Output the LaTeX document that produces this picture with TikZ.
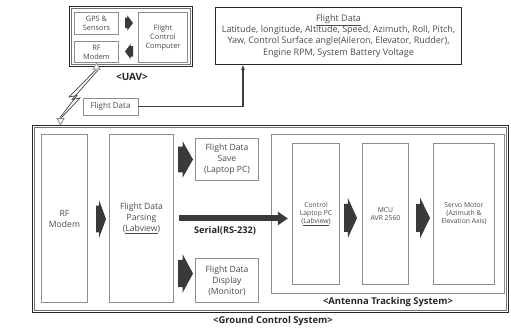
\documentclass[tikz,border=0pt]{standalone}
\usepackage{fontspec}
\setmainfont{Open Sans}
\usetikzlibrary{arrows.meta,calc}
\definecolor{bordergray}{HTML}{8C8C8C}
\definecolor{txtgray}{HTML}{4A4A4A}
\definecolor{arrowgray}{HTML}{3A3A3A}
\newcommand\blkarrow[5]{% x, y, length, width, rotation
  \fill[arrowgray, shift={(#1,#2)}, rotate=#5]
    ({-#3/2},{-0.35*#4}) -- ({-0.2*#3},{-0.35*#4}) -- ({-0.2*#3},{-#4/2}) --
    ({#3/2},0) -- ({-0.2*#3},{#4/2}) -- ({-0.2*#3},{0.35*#4}) --
    ({-#3/2},{0.35*#4}) -- cycle;}
\begin{document}
\begin{tikzpicture}[x=1pt,y=-1pt,
  gbox/.style={draw=bordergray, line width=1.3pt, fill=white, inner sep=1pt,
    align=center, text=txtgray},
  obox/.style={draw=black!85, line width=1.7pt, inner sep=0pt},
  innerline/.style={draw=black!55, line width=0.7pt},
  bigfont/.style={font=\fontsize{8.6}{11}\selectfont},
  midfont/.style={font=\fontsize{7.4}{9}\selectfont},
  smallfont/.style={font=\fontsize{6.8}{8}\selectfont},
  lbl/.style={font=\bfseries\fontsize{9.4}{11}\selectfont, text=black!85},
  conn/.style={draw=black!75, line width=1.1pt, -{Stealth[length=5pt,width=4pt]}},
  bolt/.style={draw=black!75, line width=0.7pt, line join=miter},
  ant/.style={draw=bordergray, line width=0.8pt, fill=white}
]
\useasboundingbox (0,0) rectangle (511,328);

% ---------------- UAV ----------------
\node[obox, minimum width=123, minimum height=60] (uav) at (131,36.5) {};
\draw[innerline] ($(uav.north west)+(2.6,2.6)$) rectangle ($(uav.south east)+(-2.6,-2.6)$);
\node[gbox, midfont, minimum width=44, minimum height=22] (gps) at (96.5,23.5) {GPS \&\\Sensors};
\node[gbox, midfont, minimum width=44, minimum height=21] (rfu) at (96.5,52) {RF\\Modem};
\node[gbox, midfont, minimum width=49, minimum height=50] (fcc) at (163,37.5) {Flight\\Control\\Computer};
\node[lbl, font=\bfseries\fontsize{10}{12}\selectfont] (uavlbl) at (132,76.5) {<UAV>};
\blkarrow{129}{23}{8}{15}{0}
\blkarrow{129}{51.5}{8}{15}{180}

% ---------------- Flight Data box ----------------
\node[draw=black!85, line width=1.7pt, minimum width=246, minimum height=57, align=center,
  font=\fontsize{9}{11.2}\selectfont, text=txtgray] (fdbig) at (338.5,36)
  {\underline{Flight Data}\\
   Latitude, longitude, Altitude, Speed, Azimuth, Roll, Pitch,\\
   Yaw, Control Surface angle(Aileron, Elevator, Rudder),\\
   Engine RPM, System Battery Voltage};
\node[draw=bordergray, line width=0.9pt, minimum width=55, minimum height=17,
  font=\fontsize{8}{9}\selectfont, text=txtgray] (fds) at (110.5,106.5) {Flight Data};
\coordinate (fdx) at (243,0);
\draw[conn] (fds.east) -| (fdbig.south -| fdx);

% ---------------- Ground Control System ----------------
\node[obox, minimum width=476, minimum height=187] (gcs) at (270.5,219) {};
\draw[innerline] ($(gcs.north west)+(2.6,2.6)$) rectangle ($(gcs.south east)+(-2.6,-2.6)$);
\node[gbox, bigfont, minimum width=46, minimum height=168] (rfg) at (64.5,218.5) {RF\\Modem};
\node[gbox, bigfont, minimum width=64, minimum height=168] (parse) at (141.5,218.5)
  {Flight Data\\Parsing\\(\underline{Labview})};
\node[gbox, bigfont, minimum width=63, minimum height=42] (save) at (227,159.5)
  {Flight Data\\Save\\(Laptop PC)};
\node[gbox, bigfont, minimum width=63, minimum height=44] (disp) at (227,280.5)
  {Flight Data\\Display\\(Monitor)};
\node[lbl] (gcslbl) at (273,321) {<Ground Control System>};

\blkarrow{101}{219}{10}{38}{0}
\blkarrow{185.5}{159.5}{15}{37}{0}
\blkarrow{185.5}{273.5}{15}{39}{0}

% ---------------- Antenna Tracking System ----------------
\node[gbox, minimum width=233, minimum height=159] (ats) at (388,214) {};
\node[gbox, smallfont, minimum width=47, minimum height=141] (laptop) at (316,214)
  {Control\\Laptop PC\\(\underline{Labview})};
\node[gbox, smallfont, minimum width=46, minimum height=141] (mcu) at (385.5,214)
  {MCU\\AVR 2560};
\node[gbox, smallfont, minimum width=61, minimum height=141] (servo) at (464,214)
  {Servo Motor\\(Azimuth \&\\Elevation Axis)};
\node[lbl] (atslbl) at (388,302) {<Antenna Tracking System>};
\blkarrow{350.5}{218}{13}{40}{0}
\blkarrow{423}{218}{14}{40}{0}

% Serial link
\draw[draw=arrowgray, line width=6pt, -{Triangle[length=10pt,width=13pt]},
  shorten <=5pt, shorten >=4pt] (parse.east) -- (parse.east -| laptop.west);
\node[lbl, font=\bfseries\fontsize{9.2}{11}\selectfont] (serial) at (225,230.5) {Serial(RS-232)};

% ---------------- Antennas and radio link ----------------
\coordinate (uant) at (rfu.south);
\coordinate (gx) at (60.5,0);
\coordinate (gant) at (gcs.north -| gx);
\draw[ant] (uant) -- ++(-3.5,6) -- ++(7,0) -- cycle;
\draw[ant] (gant) -- ++(-3.5,-6) -- ++(7,0) -- cycle;
\draw[bolt] ($(uant)+(-1,7)$) -- (69,97) -- (77,95.5) -- ($(gant)+(-0.5,-7)$);
\draw[bolt] ($(uant)+(1.5,7)$) -- (72,99.5) -- (80,98) -- ($(gant)+(1,-7)$);
\end{tikzpicture}
\end{document}
